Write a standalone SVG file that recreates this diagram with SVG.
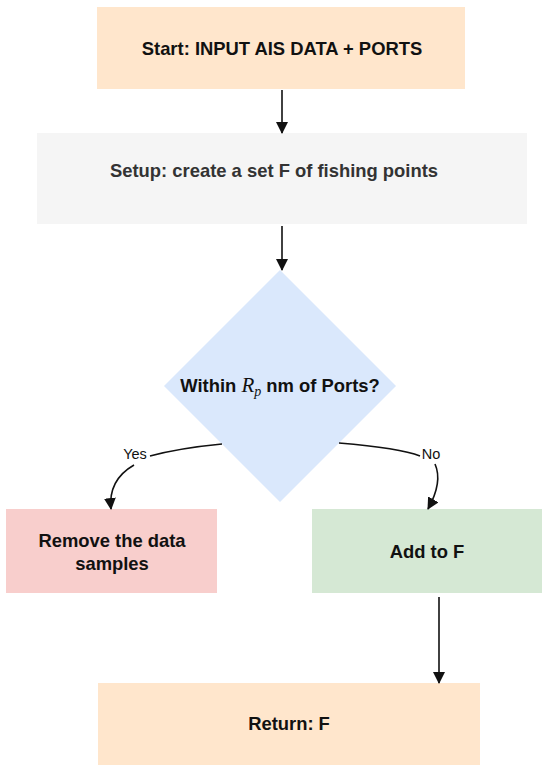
<svg xmlns="http://www.w3.org/2000/svg" width="550" height="775" viewBox="0 0 550 775">
<defs>
<style>
.t{font-family:"Liberation Sans",Arial,sans-serif;font-size:18.4px;font-weight:bold;fill:#111;text-anchor:middle}
.lbl{font-family:"Liberation Sans",Arial,sans-serif;font-size:14.5px;fill:#111;text-anchor:middle}
.e{fill:none;stroke:#111;stroke-width:1.6}
</style>
<marker id="ah" viewBox="0 0 12 12" refX="11" refY="6" markerWidth="12" markerHeight="12" markerUnits="userSpaceOnUse" orient="auto">
<path d="M0,0 L12,6 L0,12 Z" fill="#111"/>
</marker>
</defs>
<rect width="550" height="775" fill="#fff"/>
<g id="start"><rect x="97" y="7" width="368" height="82" fill="#ffe6cc"/><text class="t" x="282" y="55">Start: INPUT AIS DATA + PORTS</text></g>
<g id="setup"><rect x="37" y="133" width="490" height="91" fill="#f5f5f5"/><text class="t" x="274" y="177" style="fill:#333">Setup: create a set F of fishing points</text></g>
<g id="decision"><polygon points="280,270 396,386 280,502 164,386" fill="#dae8fc"/><text class="t" x="280" y="392">Within <tspan font-family="'Liberation Serif',serif" font-style="italic" font-weight="normal" font-size="21">R</tspan><tspan font-family="'Liberation Serif',serif" font-style="italic" font-weight="normal" font-size="14" dy="4">p</tspan><tspan dy="-4"> nm of Ports?</tspan></text></g>
<g id="remove"><rect x="6" y="509" width="211" height="84" fill="#f8cecc"/><text class="t" x="112" y="547">Remove the data</text><text class="t" x="112" y="570">samples</text></g>
<g id="add"><rect x="312" y="509" width="230" height="84" fill="#d5e8d4"/><text class="t" x="427" y="558">Add to F</text></g>
<g id="return"><rect x="98" y="683" width="382" height="82" fill="#ffe6cc"/><text class="t" x="289" y="730">Return: F</text></g>
<g id="edges">
<line class="e" x1="282" y1="90" x2="282" y2="133" marker-end="url(#ah)"/>
<line class="e" x1="282" y1="226" x2="282" y2="270" marker-end="url(#ah)"/>
<path class="e" d="M222,444 Q180,448 150,456"/>
<path class="e" d="M134,465 Q108,480 111,509" marker-end="url(#ah)"/>
<path class="e" d="M339,443 Q400,448 420,456"/>
<path class="e" d="M435,464 Q443,482 428,509" marker-end="url(#ah)"/>
<line class="e" x1="439" y1="597" x2="439" y2="683" marker-end="url(#ah)"/>
<text class="lbl" x="135" y="459">Yes</text>
<text class="lbl" x="431" y="459">No</text>
</g>
</svg>
